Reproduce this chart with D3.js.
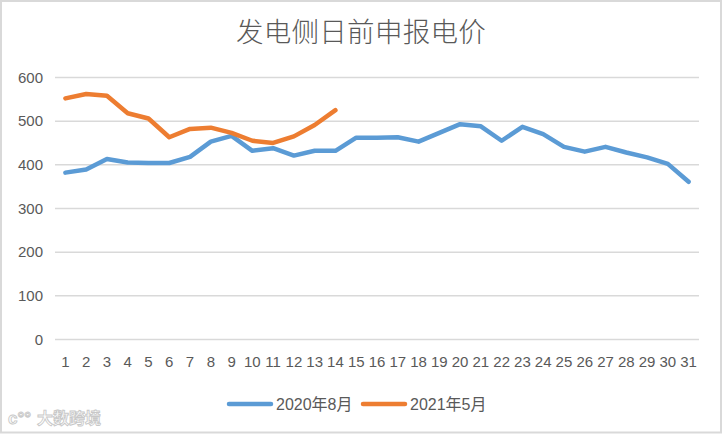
<!DOCTYPE html>
<html><head><meta charset="utf-8">
<script src="https://cdn.jsdelivr.net/npm/d3@7/dist/d3.min.js"></script>
<style>
html,body{margin:0;padding:0;background:#fff;}
svg{display:block;}
text{font-family:"Liberation Sans",Arial,sans-serif;}
</style></head>
<body>
<script>
const title = "发电侧日前申报电价";
const days = d3.range(1, 32).map(String);
const yTicks = [0, 100, 200, 300, 400, 500, 600];
const seriesNames = ["2020年8月", "2021年5月"];
const seriesColors = ["#5B9BD5", "#ED7D31"];
const aug2020 = [381, 388, 412, 404, 403, 403, 417, 452, 465, 431, 437, 420, 431, 431, 461,
                 461, 462, 452, 472, 492, 487, 454, 486, 469, 440, 429, 440, 427, 416, 401, 360];
const may2021 = [551, 561, 557, 517, 505, 462, 481, 484, 472, 454, 449, 464, 490, 524];
const seriesValues = [aug2020, may2021];

const W = 722, H = 434;
const svg = d3.select("body").append("svg").attr("width", W).attr("height", H);

svg.append("rect").attr("x", 1).attr("y", 1).attr("width", W - 2).attr("height", H - 2.5)
  .attr("fill", "#fff").attr("stroke", "#d9d9d9").attr("stroke-width", 2);

const plotL = 55, plotR = 699, plotT = 77, plotB = 339;
const x = d3.scaleBand().domain(days).range([plotL, plotR]);
const y = d3.scaleLinear().domain([0, 600]).range([plotB, plotT]);

// title
svg.append("text").attr("x", 361).attr("y", 42).attr("text-anchor", "middle")
  .style("font-family", "'Noto Sans CJK SC', sans-serif").style("font-weight", 300)
  .attr("font-size", 27.5).attr("letter-spacing", 0.3).attr("fill", "#595959").text(title);

// gridlines + y labels
const yAxis = d3.axisLeft(y).tickValues(yTicks).tickSize(-(plotR - plotL)).tickPadding(12);
const gy = svg.append("g").attr("transform", `translate(${plotL},0)`).call(yAxis);
gy.select(".domain").remove();
gy.selectAll(".tick line").attr("stroke", "#d9d9d9").attr("stroke-width", 1.5);
gy.selectAll(".tick text").attr("fill", "#595959").attr("font-size", 15)
  .style("font-family", "'Liberation Sans',Arial,sans-serif").attr("dy", "0.35em");

// x labels
const xAxis = d3.axisBottom(x).tickSize(0).tickPadding(17);
const gx = svg.append("g").attr("transform", `translate(0,${plotB})`).call(xAxis);
gx.select(".domain").remove();
gx.selectAll(".tick text").attr("fill", "#595959").attr("font-size", 15)
  .style("font-family", "'Liberation Sans',Arial,sans-serif");

// lines
const line = d3.line().x((d, i) => x(days[i]) + x.bandwidth() / 2).y(d => y(d));
seriesValues.forEach((vals, k) => {
  svg.append("path").datum(vals).attr("d", line).attr("fill", "none")
    .attr("stroke", seriesColors[k]).attr("stroke-width", 4.5)
    .attr("stroke-linejoin", "round").attr("stroke-linecap", "round");
});

// legend
const legX = [229, 363];
seriesNames.forEach((name, k) => {
  const g = svg.append("g").attr("transform", `translate(${legX[k]},404)`);
  g.append("line").attr("x1", 0).attr("x2", 42).attr("y1", 0).attr("y2", 0)
    .attr("stroke", seriesColors[k]).attr("stroke-width", 4.5).attr("stroke-linecap", "round");
  g.append("text").attr("x", 47).attr("y", 0).attr("dy", "0.36em").attr("font-size", 16)
    .attr("fill", "#595959")
    .style("font-family", "'Liberation Sans','Noto Sans CJK SC',sans-serif").text(name);
});

// watermark
svg.append("text").attr("x", 37).attr("y", 424).attr("font-size", 16)
  .style("font-family", "'Noto Sans CJK SC',sans-serif").style("font-weight", 700)
  .attr("fill", "#fff").attr("stroke", "#c8c8c8").attr("stroke-width", 0.9)
  .text("大数跨境");
svg.append("text").attr("x", 8).attr("y", 424).attr("font-size", 17)
  .style("font-family", "'Liberation Sans',sans-serif").style("font-weight", 700)
  .attr("fill", "#fff").attr("stroke", "#c8c8c8").attr("stroke-width", 0.9)
  .text("ᴄ°°");
</script>
</body></html>
